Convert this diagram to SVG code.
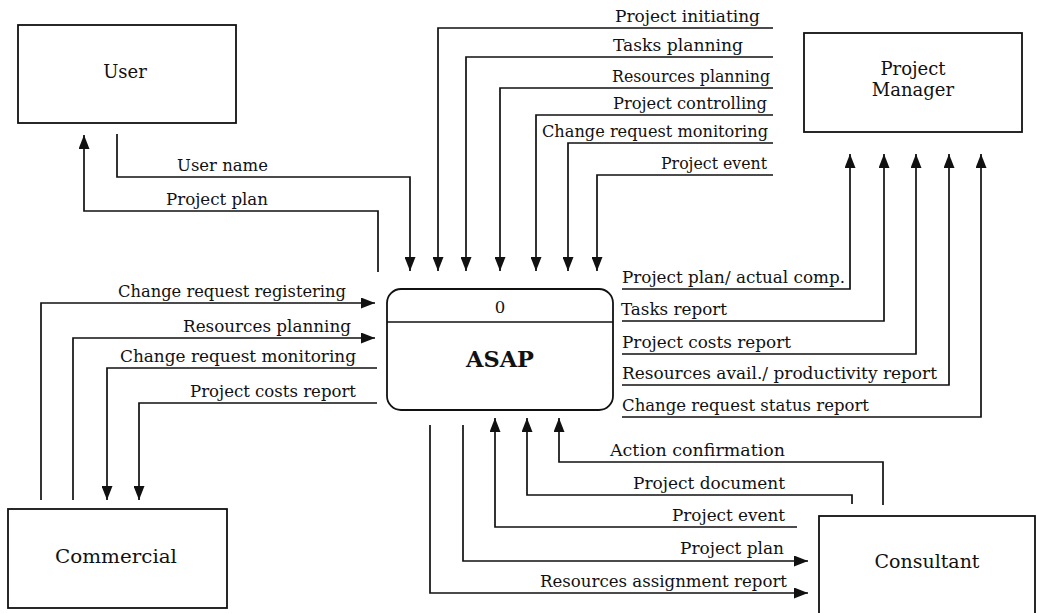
<svg xmlns="http://www.w3.org/2000/svg" width="1037" height="613" viewBox="0 0 1037 613">
<style>
.box{fill:#fff;stroke:#111;stroke-width:1.8}
.ln{fill:none;stroke:#111;stroke-width:1.7}
.lbl{font-family:"DejaVu Serif","Liberation Serif",serif;font-size:16.5px;fill:#111}
.nm{font-family:"DejaVu Serif","Liberation Serif",serif;font-size:18px;fill:#111;text-anchor:middle}
</style>
<defs>
<marker id="ah" markerUnits="userSpaceOnUse" markerWidth="14" markerHeight="11" refX="14" refY="5.5" orient="auto">
<path d="M0,0 L14,5.5 L0,11 z" fill="#111"/>
</marker>
</defs>
<rect width="1037" height="613" fill="#fff"/>

<g id="user">
<rect class="box" x="18" y="25" width="218" height="98"/>
<text class="nm" x="125" y="78">User</text>
</g>
<g id="project-manager">
<rect class="box" x="804" y="33" width="218" height="99"/>
<text class="nm" x="913" y="75">Project</text>
<text class="nm" x="913" y="96">Manager</text>
</g>
<g id="commercial">
<rect class="box" x="8" y="509" width="219" height="99"/>
<text class="nm" x="116" y="563" textLength="122" lengthAdjust="spacingAndGlyphs">Commercial</text>
</g>
<g id="consultant">
<rect class="box" x="819" y="516" width="216" height="110"/>
<text class="nm" x="927" y="568" textLength="105" lengthAdjust="spacingAndGlyphs">Consultant</text>
</g>
<g id="asap">
<rect class="box" x="387" y="289" width="226" height="121" rx="14" ry="14"/>
<line class="ln" x1="387" y1="322" x2="613" y2="322"/>
<text class="lbl" x="500" y="313" text-anchor="middle">0</text>
<text x="500" y="367" text-anchor="middle" font-family="DejaVu Serif, Liberation Serif, serif" font-size="23" font-weight="bold" fill="#111" textLength="68" lengthAdjust="spacingAndGlyphs">ASAP</text>
</g>

<g id="connectors">
<path class="ln" d="M117,134 V177 H410 V271" marker-end="url(#ah)"/>
<path class="ln" d="M378,272 V211 H84 V135" marker-end="url(#ah)"/>
<path class="ln" d="M773,28 H438 V271" marker-end="url(#ah)"/>
<path class="ln" d="M773,57 H466 V271" marker-end="url(#ah)"/>
<path class="ln" d="M773,88 H500 V271" marker-end="url(#ah)"/>
<path class="ln" d="M773,115 H536 V271" marker-end="url(#ah)"/>
<path class="ln" d="M773,143 H568 V271" marker-end="url(#ah)"/>
<path class="ln" d="M773,175 H597 V271" marker-end="url(#ah)"/>
<path class="ln" d="M622,289 H850 V154" marker-end="url(#ah)"/>
<path class="ln" d="M622,321 H884 V154" marker-end="url(#ah)"/>
<path class="ln" d="M622,354 H916 V154" marker-end="url(#ah)"/>
<path class="ln" d="M622,385 H949 V154" marker-end="url(#ah)"/>
<path class="ln" d="M622,417 H981 V154" marker-end="url(#ah)"/>
<path class="ln" d="M41,500 V303 H375" marker-end="url(#ah)"/>
<path class="ln" d="M73,500 V338 H375" marker-end="url(#ah)"/>
<path class="ln" d="M377,368 H107 V500" marker-end="url(#ah)"/>
<path class="ln" d="M377,403 H139 V500" marker-end="url(#ah)"/>
<path class="ln" d="M430,425 V593 H808" marker-end="url(#ah)"/>
<path class="ln" d="M463,425 V561 H808" marker-end="url(#ah)"/>
<path class="ln" d="M797,527 H495 V418" marker-end="url(#ah)"/>
<path class="ln" d="M852,504 V495 H527 V418" marker-end="url(#ah)"/>
<path class="ln" d="M883,505 V462 H559 V418" marker-end="url(#ah)"/>

<text class="lbl" x="177" y="171" textLength="91" lengthAdjust="spacingAndGlyphs">User name</text>
<text class="lbl" x="166" y="205" textLength="102" lengthAdjust="spacingAndGlyphs">Project plan</text>
<text class="lbl" x="615" y="22" textLength="145" lengthAdjust="spacingAndGlyphs">Project initiating</text>
<text class="lbl" x="613" y="51" textLength="130" lengthAdjust="spacingAndGlyphs">Tasks planning</text>
<text class="lbl" x="612" y="82" textLength="158" lengthAdjust="spacingAndGlyphs">Resources planning</text>
<text class="lbl" x="613" y="109" textLength="154" lengthAdjust="spacingAndGlyphs">Project controlling</text>
<text class="lbl" x="542" y="137" textLength="226" lengthAdjust="spacingAndGlyphs">Change request monitoring</text>
<text class="lbl" x="661" y="169" textLength="106" lengthAdjust="spacingAndGlyphs">Project event</text>
<text class="lbl" x="622" y="283" textLength="223" lengthAdjust="spacingAndGlyphs">Project plan/ actual comp.</text>
<text class="lbl" x="621" y="315" textLength="106" lengthAdjust="spacingAndGlyphs">Tasks report</text>
<text class="lbl" x="622" y="348" textLength="169" lengthAdjust="spacingAndGlyphs">Project costs report</text>
<text class="lbl" x="622" y="379" textLength="315" lengthAdjust="spacingAndGlyphs">Resources avail./ productivity report</text>
<text class="lbl" x="622" y="411" textLength="247" lengthAdjust="spacingAndGlyphs">Change request status report</text>
<text class="lbl" x="118" y="297" textLength="228" lengthAdjust="spacingAndGlyphs">Change request registering</text>
<text class="lbl" x="183" y="332" textLength="168" lengthAdjust="spacingAndGlyphs">Resources planning</text>
<text class="lbl" x="120" y="362" textLength="236" lengthAdjust="spacingAndGlyphs">Change request monitoring</text>
<text class="lbl" x="190" y="397" textLength="166" lengthAdjust="spacingAndGlyphs">Project costs report</text>
<text class="lbl" x="610" y="456" textLength="175" lengthAdjust="spacingAndGlyphs">Action confirmation</text>
<text class="lbl" x="633" y="489" textLength="152" lengthAdjust="spacingAndGlyphs">Project document</text>
<text class="lbl" x="672" y="521" textLength="113" lengthAdjust="spacingAndGlyphs">Project event</text>
<text class="lbl" x="680" y="554" textLength="104" lengthAdjust="spacingAndGlyphs">Project plan</text>
<text class="lbl" x="540" y="587" textLength="247" lengthAdjust="spacingAndGlyphs">Resources assignment report</text>
</g>
</svg>
